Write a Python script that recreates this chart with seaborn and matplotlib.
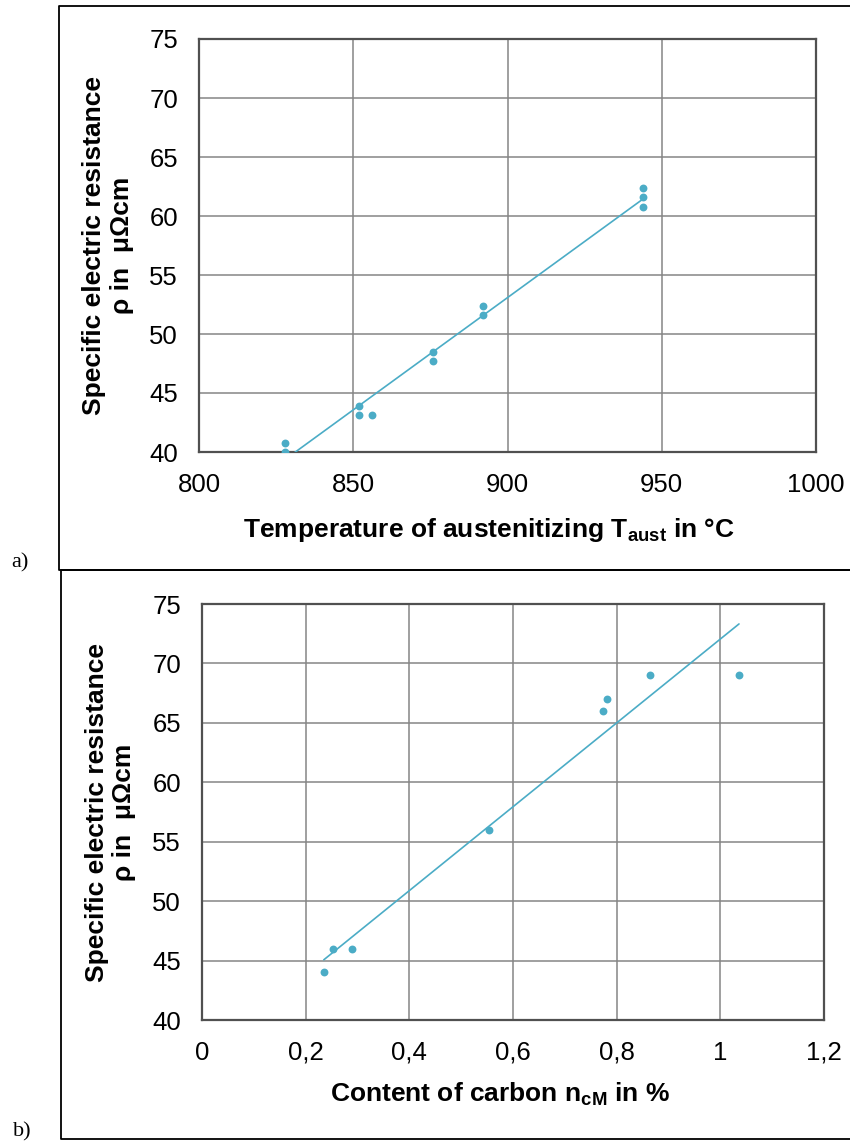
import numpy as np
import pandas as pd
import seaborn as sns
import matplotlib.pyplot as plt
from matplotlib.lines import Line2D

# panel a: austenitizing temperature vs resistance
temp_c = [828, 828, 852, 852, 856, 876, 876, 892, 892, 944, 944, 944]
rho_a = [40.8, 40.0, 43.9, 43.1, 43.1, 48.5, 47.7, 52.4, 51.6, 62.4, 61.6, 60.8]

# panel b: carbon content vs resistance
carbon = [0.235, 0.253, 0.289, 0.554, 0.773, 0.781, 0.864, 1.036]
rho_b = [44, 46, 46, 56, 66, 67, 69, 69]

x_ticks_a = [800, 850, 900, 950, 1000]
x_ticks_b = [0, 0.2, 0.4, 0.6, 0.8, 1.0, 1.2]
x_labels_b = ["0", "0,2", "0,4", "0,6", "0,8", "1", "1,2"]
y_ticks = [40, 45, 50, 55, 60, 65, 70, 75]

sns.set_style("white")
plt.rcParams['font.family'] = ['Liberation Sans', 'DejaVu Sans']
plt.rcParams['text.color'] = 'black'
plt.rcParams['mathtext.fontset'] = 'custom'
plt.rcParams['mathtext.rm'] = 'Liberation Sans:bold'
plt.rcParams['mathtext.it'] = 'Liberation Sans:bold'
plt.rcParams['mathtext.bf'] = 'Liberation Sans:bold'

teal = '#4BACC6'
W, H = 850, 1142
fig = plt.figure(figsize=(W / 100, H / 100), dpi=100)

ax_a = fig.add_axes([199 / W, 1 - 452 / H, 617 / W, 413 / H])
ax_b = fig.add_axes([202 / W, 1 - 1020 / H, 622 / W, 416 / H])

df_a = pd.DataFrame({'T': temp_c, 'rho': rho_a})
df_b = pd.DataFrame({'c': carbon, 'rho': rho_b})

sns.regplot(data=df_a, x='T', y='rho', ax=ax_a, ci=None, color=teal,
            scatter_kws={'s': 32, 'linewidths': 0, 'alpha': 1, 'zorder': 3},
            line_kws={'lw': 1.2, 'zorder': 3})
sns.regplot(data=df_b, x='c', y='rho', ax=ax_b, ci=None, color=teal,
            scatter_kws={'s': 32, 'linewidths': 0, 'alpha': 1, 'zorder': 3},
            line_kws={'lw': 1.2, 'zorder': 3})

ax_a.set_xlim(800, 1000)
ax_a.set_xticks(x_ticks_a)
ax_b.set_xlim(0, 1.2)
ax_b.set_xticks(x_ticks_b, labels=x_labels_b)

for ax in (ax_a, ax_b):
    ax.set_ylim(40, 75)
    ax.set_yticks(y_ticks)
    ax.set_xlabel('')
    ax.set_ylabel('')
    ax.set_axisbelow(True)
    ax.grid(True, color='#858585', lw=1.1)
    ax.tick_params(length=0, pad=15, labelsize=18.5, labelcolor='black')
    for sp in ax.spines.values():
        sp.set_visible(True)
        sp.set_color('#505050')
        sp.set_linewidth(1.6)
    ax.text(-0.147, 0.5, 'Specific electric resistance\nρ in  μΩcm',
            transform=ax.transAxes, rotation=90, ha='center', va='center',
            fontsize=19, fontweight='bold', linespacing=1.2, color='black')

ax_a.text(0.47, -0.189, r'Temperature of austenitizing T$_{\mathbf{aust}}$ in °C',
          transform=ax_a.transAxes, ha='center', va='center',
          fontsize=19, fontweight='bold', color='black')
ax_b.text(0.479, -0.18, r'Content of carbon n$_{\mathbf{cM}}$ in %',
          transform=ax_b.transAxes, ha='center', va='center',
          fontsize=19, fontweight='bold', color='black')

# panel frames
def frame(x0, y0, y1):
    pts = [(W + 5, y0), (x0, y0), (x0, y1), (W + 5, y1)]
    xs = [p[0] / W for p in pts]
    ys = [1 - p[1] / H for p in pts]
    fig.add_artist(Line2D(xs, ys, color='black', lw=1.3, transform=fig.transFigure))

frame(59, 6, 570)
frame(61, 570, 1139)

fig.text(11 / W, 1 - 563 / H, 'a)', family='Liberation Serif', fontsize=16, va='center')
fig.text(13 / W, 1 - 1132 / H, 'b)', family='Liberation Serif', fontsize=16, va='center')

fig.savefig('out.png', dpi=100)
